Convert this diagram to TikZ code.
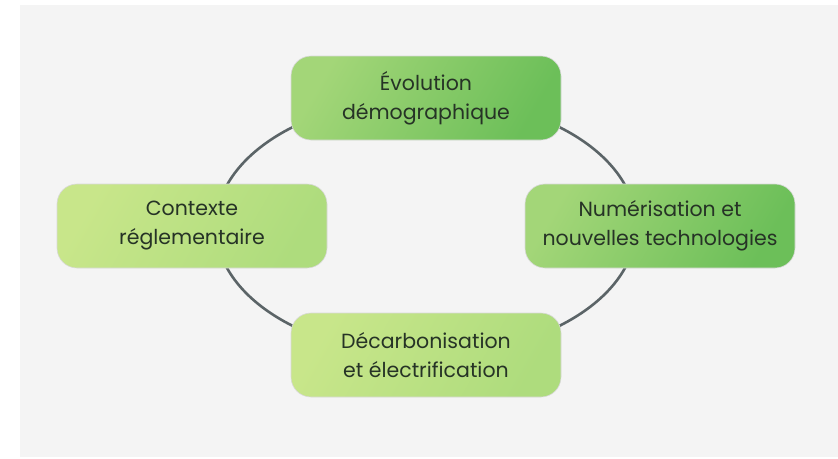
\documentclass[tikz,border=0pt]{standalone}
\usepackage{fontspec}
\setmainfont{Poppins}
\usetikzlibrary{backgrounds}
\begin{document}
\begin{tikzpicture}[x=1pt,y=-1pt,
  box/.style={rounded corners=20pt, minimum width=270pt, minimum height=84pt,
    align=center, font=\fontsize{20.5}{29}\selectfont, text=txt, draw=white!85!black, line width=0.6pt, inner sep=0pt},
  dark/.style={box, left color=gA, right color=gB, shading angle=60},
  light/.style={box, left color=lA, right color=lB, shading angle=60},
  ring/.style={draw=ringc, line width=2.6pt}]
\definecolor{bg}{HTML}{F4F4F4}
\definecolor{txt}{HTML}{263326}
\definecolor{gA}{HTML}{A3D678}
\definecolor{gB}{HTML}{6CBF59}
\definecolor{lA}{HTML}{C8E68A}
\definecolor{lB}{HTML}{AEDC7D}
\definecolor{ringc}{HTML}{5B6467}
\useasboundingbox (0,0) rectangle (838,458);
\node[dark]  (top)    at (426,98)  {Évolution\\démographique};
\node[dark]  (right)  at (660,226) {Numérisation et\\nouvelles technologies};
\node[light] (bottom) at (426,355) {Décarbonisation\\et électrification};
\node[light] (left)   at (192,226) {Contexte\\réglementaire};
\begin{pgfonlayer}{background}
\fill[bg] (20,5) rectangle (838,457);
\draw[ring] (top.center) arc[start angle=90, end angle=0, x radius=210, y radius=-128];
\draw[ring] (bottom.center) arc[start angle=270, end angle=360, x radius=210, y radius=-128];
\draw[ring] (bottom.center) arc[start angle=270, end angle=180, x radius=210, y radius=-128];
\draw[ring] (top.center) arc[start angle=90, end angle=180, x radius=210, y radius=-128];
\end{pgfonlayer}
\end{tikzpicture}
\end{document}
